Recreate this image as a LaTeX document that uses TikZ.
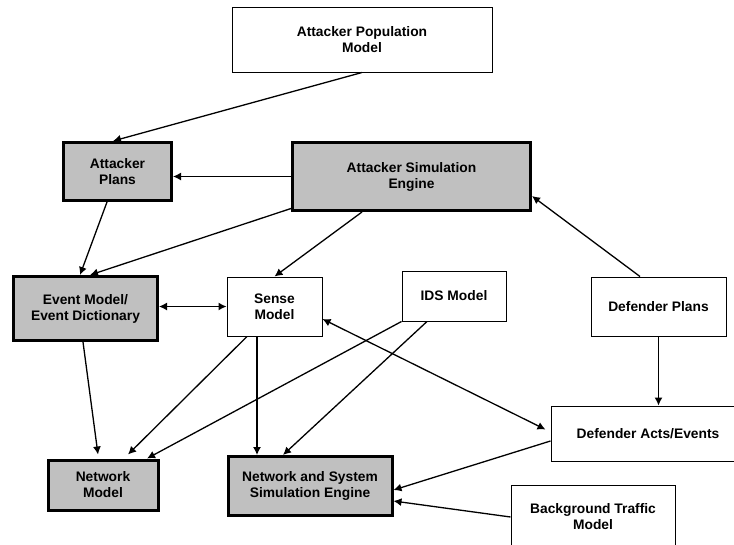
\documentclass[tikz,border=0pt]{standalone}
\usepackage{fontspec}
\setmainfont{Liberation Sans}
\usetikzlibrary{arrows.meta}
\definecolor{boxgray}{RGB}{192,192,192}

\begin{document}
\begin{tikzpicture}[x=1pt, y=-1pt,
    plainbox/.style={draw, line width=1pt, fill=white, align=center, inner sep=0pt,
        font=\fontsize{13.8}{16}\selectfont\bfseries},
    simbox/.style={plainbox, line width=3pt, fill=boxgray},
    link/.style={line width=1.3pt, -{Latex[length=8pt,width=8pt]}},
    twoway/.style={line width=1.3pt, {Latex[length=8pt,width=8pt]}-{Latex[length=8pt,width=8pt]}}]
    \useasboundingbox (0,0) rectangle (734,544);

    % Attacker side
    \node[plainbox, minimum width=260pt, minimum height=65pt] (popmodel) at (362,39.5) {Attacker Population\\Model};
    \node[simbox, minimum width=108pt, minimum height=58pt] (attplans) at (117.5,171.5) {Attacker\\Plans};
    \node[simbox, minimum width=238pt, minimum height=68pt] (attengine) at (411.5,176.5) {Attacker Simulation\\Engine};

    % Middle row
    \node[simbox, minimum width=144pt, minimum height=64pt] (eventmodel) at (85.5,308.5) {Event Model/\\Event Dictionary};
    \node[plainbox, minimum width=95pt, minimum height=59pt] (sensemodel) at (274.5,306.5) {Sense\\Model};
    \node[plainbox, minimum width=104pt, minimum height=50pt] (idsmodel) at (454,296) {IDS Model};
    \node[plainbox, minimum width=135pt, minimum height=59pt] (defplans) at (658.5,306.5) {Defender Plans};
    \node[plainbox, minimum width=194pt, minimum height=55pt] (defacts) at (648,433.5) {Defender Acts/Events};

    % Network side
    \node[simbox, minimum width=110pt, minimum height=50pt] (netmodel) at (103,485) {Network\\Model};
    \node[simbox, minimum width=164pt, minimum height=59pt] (netengine) at (310,486) {Network and System\\Simulation Engine};
    \node[plainbox, minimum width=164pt, minimum height=64pt] (traffic) at (593,517) {Background Traffic\\Model};

    % Draw links
    \draw[link] (popmodel.south) -- ([xshift=-4.5pt]attplans.north);
    \draw[link] (attengine.west) -- (attengine.west -| attplans.east);
    \draw[link] ([xshift=-10.5pt]attplans.south) -- ([xshift=-5.5pt]eventmodel.north);
    \draw[link] ([yshift=3.5pt]attengine.south west) -- ([xshift=4.5pt]eventmodel.north);
    \draw[link] ([xshift=-49.5pt]attengine.south) -- (sensemodel.north);
    \draw[link] ([xshift=-18.5pt]defplans.north) -- ([yshift=-19.5pt]attengine.east);
    \draw[twoway] (sensemodel.west -| eventmodel.east) -- (sensemodel.west);
    \draw[link] ([xshift=-2.5pt]eventmodel.south) -- ([xshift=-5pt,yshift=4pt]netmodel.north);
    \draw[link] ([xshift=-27.5pt]sensemodel.south) -- ([xshift=25pt,yshift=4pt]netmodel.north);
    \draw[link] (idsmodel.south west) -- ([xshift=44pt]netmodel.north);
    \draw[link] ([xshift=-17.5pt]sensemodel.south) -- ([xshift=-53pt]netengine.north);
    \draw[link] ([xshift=-27pt]idsmodel.south) -- ([xshift=-27pt]netengine.north);
    \draw[twoway] ([yshift=-12.5pt]sensemodel.east) -- ([xshift=-5pt,yshift=4pt]defacts.west);
    \draw[link] ([yshift=-7.5pt]defacts.west) -- ([yshift=-4pt]netengine.east);
    \draw[link] (traffic.west) -- ([yshift=-15pt]netengine.east);
    \draw[link] (defplans.south) -- (defplans.south |- defacts.north);

\end{tikzpicture}
\end{document}
